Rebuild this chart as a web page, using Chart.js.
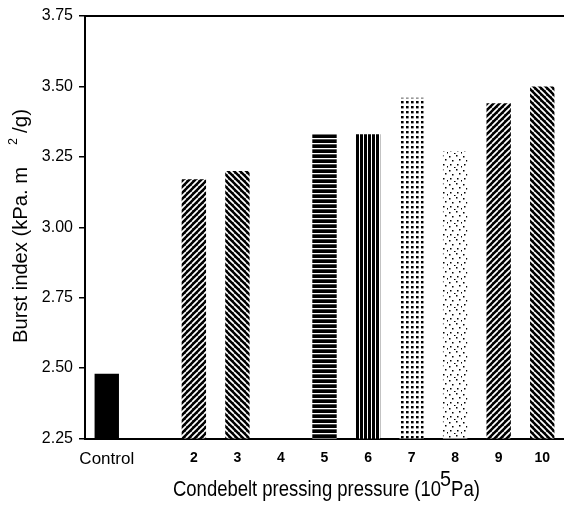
<!DOCTYPE html>
<html>
<head>
<meta charset="utf-8">
<script src="https://cdn.jsdelivr.net/npm/chart.js@4"></script>
<style>
  html, body { margin: 0; padding: 0; background: #fff; }
  canvas { display: block; }
</style>
</head>
<body>
<canvas id="chartBurst" width="564" height="509"></canvas>
<script>
// ── Data ───────────────────────────────────────────────────────
const xLabels    = ['Control', '', '2', '3', '4', '5', '6', '7', '8', '9', '10'];
const burstIndex = [2.48, null, 3.17, 3.20, null, 3.33, 3.33, 3.46, 3.27, 3.44, 3.50];
const yMin = 2.25, yMax = 3.75, yStep = 0.25;

const yTitle  = ['Burst index (kPa. m', '2', '/g)'];
const xTitle  = ['Condebelt pressing pressure (10', '5', 'Pa)'];

// fill style per category (same order as xLabels)
const barFills = ['solid', 'none', 'hatchUp', 'hatchDown', 'none',
                  'horizontal', 'vertical', 'dotsDense', 'dotsSparse', 'hatchUp', 'hatchDown'];

const FONT = '"Liberation Sans", Arial, sans-serif';

// ── Fill patterns (scanned-print look) ─────────────────────────
function makePattern(size, paint) {
  const c = document.createElement('canvas');
  c.width = c.height = size;
  const g = c.getContext('2d');
  paint(g, size);
  return g.createPattern(c, 'repeat');
}

function diag(g, s, up) {
  g.fillStyle = '#000';
  g.fillRect(0, 0, s, s);
  g.strokeStyle = '#fff';
  g.lineWidth = 1.7;
  g.beginPath();
  for (const o of [-s, 0, s]) {
    if (up) { g.moveTo(o, s); g.lineTo(o + s, 0); }
    else    { g.moveTo(o, 0); g.lineTo(o + s, s); }
  }
  g.stroke();
}

const PATTERNS = {
  solid: '#000',
  none: 'rgba(0,0,0,0)',
  hatchUp:   makePattern(6, (g, s) => diag(g, s, true)),
  hatchDown: makePattern(6, (g, s) => diag(g, s, false)),
  horizontal: makePattern(5, (g, s) => {
    g.fillStyle = '#000'; g.fillRect(0, 0, s, s);
    g.fillStyle = '#fff'; g.fillRect(0, 3, s, 1.3);
  }),
  vertical: makePattern(4, (g, s) => {
    g.fillStyle = '#000'; g.fillRect(0, 0, s, s);
    g.fillStyle = '#fff'; g.fillRect(3, 0, 1.2, s);
  }),
  dotsDense: makePattern(5, (g, s) => {
    g.fillStyle = '#fff'; g.fillRect(0, 0, s, s);
    g.fillStyle = '#000'; g.fillRect(1, 1, 2.6, 2.4);
  }),
  dotsSparse: makePattern(14, (g, s) => {
    g.fillStyle = '#fff'; g.fillRect(0, 0, s, s);
    g.fillStyle = '#000';
    [[1, 2], [8, 1], [4, 6], [11, 5], [2, 10], [9, 10], [6, 13], [13, 12]]
      .forEach(([x, y]) => g.fillRect(x, y, 1.5, 1.5));
  })
};

// ── Axis titles with superscripts ──────────────────────────────
function fitText(ctx, text, x, y, width) {
  const w = ctx.measureText(text).width;
  ctx.save();
  ctx.translate(x, y);
  ctx.scale(width / w, 1);
  ctx.fillText(text, 0, 0);
  ctx.restore();
}

const axisTitles = {
  id: 'axisTitles',
  afterDraw(chart) {
    const ctx = chart.ctx;
    ctx.save();
    ctx.fillStyle = '#000';
    ctx.textBaseline = 'alphabetic';
    ctx.textAlign = 'left';

    // y title, rotated, read bottom to top
    ctx.save();
    ctx.translate(27, 343);
    ctx.rotate(-Math.PI / 2);
    ctx.font = '20px ' + FONT;
    fitText(ctx, yTitle[0], 0, 0, 176);
    ctx.font = '13px ' + FONT;
    fitText(ctx, yTitle[1], 198, -10, 7);
    ctx.font = '20px ' + FONT;
    fitText(ctx, yTitle[2], 210, 0, 24);
    ctx.restore();

    // x title
    ctx.font = '22px ' + FONT;
    fitText(ctx, xTitle[0], 173, 496, 268);
    fitText(ctx, xTitle[1], 440, 486, 11);
    fitText(ctx, xTitle[2], 451, 496, 29);
    ctx.restore();
  }
};

// ── Chart ──────────────────────────────────────────────────────
const ctx = document.getElementById('chartBurst').getContext('2d');
new Chart(ctx, {
  type: 'bar',
  data: {
    labels: xLabels,
    datasets: [{
      data: burstIndex,
      backgroundColor: barFills.map(f => PATTERNS[f]),
      borderWidth: 0,
      barPercentage: 0.56,
      categoryPercentage: 1
    }]
  },
  options: {
    responsive: false,
    devicePixelRatio: 1,
    animation: false,
    layout: { padding: { left: 28, top: 16, right: 0, bottom: 0 } },
    plugins: { legend: { display: false }, tooltip: { enabled: false } },
    scales: {
      x: {
        type: 'category',
        offset: true,
        afterFit: s => { s.height = 70.5; },
        grid: { display: false, drawTicks: false },
        border: { display: true, color: '#000', width: 2 },
        ticks: {
          color: '#000',
          padding: 11,
          maxRotation: 0,
          autoSkip: false,
          font: c => c.index === 0
            ? { family: FONT, size: 17 }
            : { family: FONT, size: 14, weight: 'bold' }
        }
      },
      xTop: {
        type: 'category',
        position: 'top',
        afterFit: s => { s.height = 0; },
        grid: { display: false, drawTicks: false },
        border: { display: true, color: '#000', width: 2 },
        ticks: { display: false }
      },
      y: {
        min: yMin,
        max: yMax,
        afterFit: s => { s.width = 57; },
        grid: { drawOnChartArea: false, color: '#000', lineWidth: 1.5, tickLength: 6 },
        border: { display: true, color: '#000', width: 2 },
        ticks: {
          stepSize: yStep,
          color: '#000',
          padding: 6,
          font: { family: FONT, size: 16 },
          callback: v => v.toFixed(2)
        }
      }
    }
  },
  plugins: [axisTitles]
});
</script>
</body>
</html>
